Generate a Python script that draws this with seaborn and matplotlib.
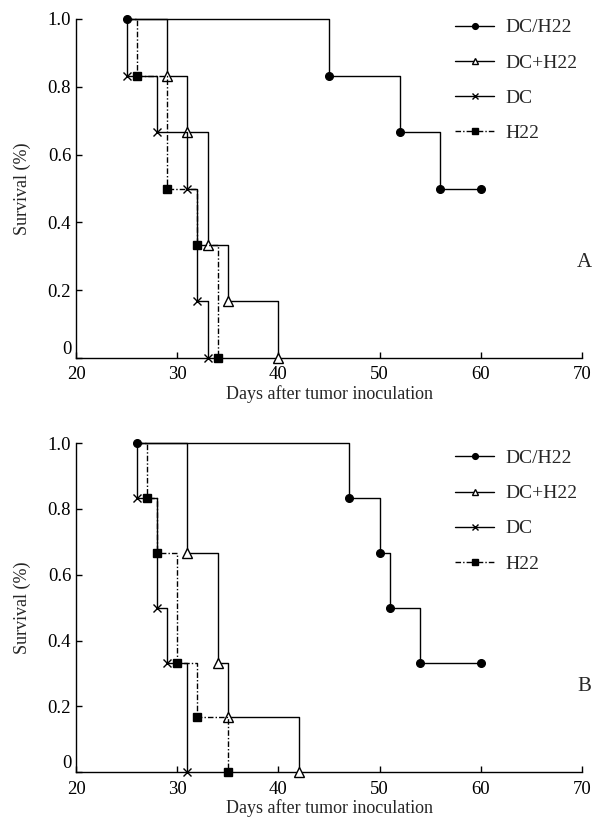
import matplotlib
matplotlib.use('Agg')
import matplotlib.pyplot as plt
import seaborn as sns
import pandas as pd

sns.set_style('ticks')
plt.rcParams['font.family'] = ['Liberation Serif', 'DejaVu Serif']

groups = ['DC/H22', 'DC+H22', 'DC', 'H22']

# panel A : days and survival at each step (first point = start at 1.0)
a_days = {
    'DC/H22': [25, 45, 52, 56, 60],
    'DC+H22': [25, 29, 31, 33, 35, 40],
    'DC':     [25, 25, 28, 31, 32, 33],
    'H22':    [25, 26, 29, 32, 34],
}
a_surv = {
    'DC/H22': [1.0, 0.833, 0.667, 0.5, 0.5],
    'DC+H22': [1.0, 0.833, 0.667, 0.333, 0.167, 0.0],
    'DC':     [1.0, 0.833, 0.667, 0.5, 0.167, 0.0],
    'H22':    [1.0, 0.833, 0.5, 0.333, 0.0],
}

# panel B
b_days = {
    'DC/H22': [26, 47, 50, 51, 54, 60],
    'DC+H22': [26, 31, 34, 35, 42],
    'DC':     [26, 26, 28, 29, 31],
    'H22':    [26, 27, 28, 30, 32, 35],
}
b_surv = {
    'DC/H22': [1.0, 0.833, 0.667, 0.5, 0.333, 0.333],
    'DC+H22': [1.0, 0.667, 0.333, 0.167, 0.0],
    'DC':     [1.0, 0.833, 0.5, 0.333, 0.0],
    'H22':    [1.0, 0.833, 0.667, 0.333, 0.167, 0.0],
}

xticks = [20, 30, 40, 50, 60, 70]
yticks = [0, 0.2, 0.4, 0.6, 0.8, 1.0]
ytick_labels = ['0', '0.2', '0.4', '0.6', '0.8', '1.0']

markers = {'DC/H22': 'o', 'DC+H22': '^', 'DC': 'x', 'H22': 's'}
faces = {'DC/H22': 'black', 'DC+H22': 'white', 'DC': 'black', 'H22': 'black'}
sizes = {'DC/H22': 5.5, 'DC+H22': 6.5, 'DC': 6, 'H22': 5.5}
lstyles = {'DC/H22': '-', 'DC+H22': '-', 'DC': '-', 'H22': (0, (4, 1.5, 1, 1.5))}

fig = plt.figure(figsize=(5.94, 8.25), dpi=100)
ax_a = fig.add_axes([0.128, 0.566, 0.852, 0.411])
ax_b = fig.add_axes([0.128, 0.064, 0.852, 0.399])


def draw(ax, days, surv, tag, tag_y, leg_y):
    for g in groups:
        df = pd.DataFrame({'day': days[g], 'surv': surv[g]})
        first = 0 if g == 'DC/H22' else 1
        sns.lineplot(data=df, x='day', y='surv', ax=ax, color='black',
                     estimator=None, sort=False, drawstyle='steps-post',
                     linestyle=lstyles[g], linewidth=1.0,
                     marker=markers[g], markersize=sizes[g],
                     markerfacecolor=faces[g], markeredgecolor='black',
                     markeredgewidth=1.0, markevery=slice(first, None),
                     clip_on=False, label=g, zorder=3)
    ax.set_xlim(20, 70)
    ax.set_ylim(0, 1.0)
    ax.set_xticks(xticks)
    ax.set_yticks(yticks)
    ax.set_yticklabels(ytick_labels)
    ax.tick_params(direction='in', length=4, width=1, labelsize=13.5,
                   colors='black')
    ax.tick_params(axis='x', pad=6)
    ax.get_yticklabels()[0].set_va('bottom')
    sns.despine(ax=ax)
    for s in ['left', 'bottom']:
        ax.spines[s].set_linewidth(1.0)
        ax.spines[s].set_color('black')
    ax.set_xlabel('Days after tumor inoculation', fontsize=13, labelpad=1)
    ax.set_ylabel('Survival (%)', fontsize=13, labelpad=12)
    ax.legend(loc='upper right', bbox_to_anchor=(1.026, leg_y), frameon=False,
              fontsize=14, handlelength=2.0, labelspacing=0.9,
              handletextpad=0.6, markerscale=0.75)
    ax.text(70.2, tag_y, tag, fontsize=15, ha='center', va='center')


draw(ax_a, a_days, a_surv, 'A', 0.283, 1.052)
draw(ax_b, b_days, b_surv, 'B', 0.26, 1.033)

fig.savefig('out.png', dpi=100)
